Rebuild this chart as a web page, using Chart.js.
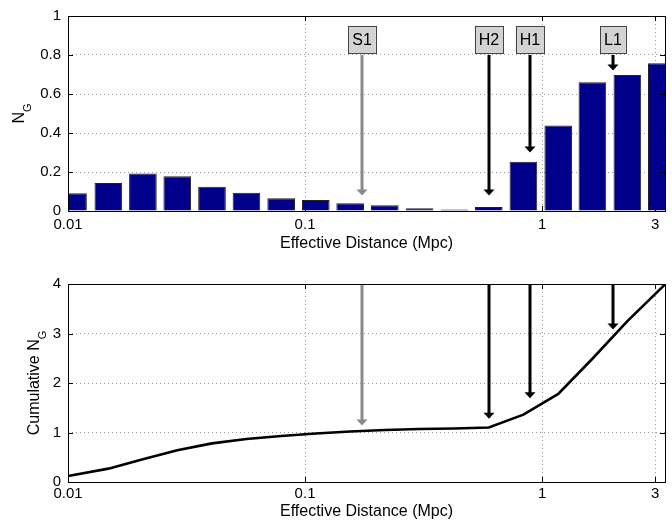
<!DOCTYPE html>
<html>
<head>
<meta charset="utf-8">
<script src="https://cdn.jsdelivr.net/npm/chart.js@4.4.1/dist/chart.umd.min.js"></script>
<style>
  body { margin: 0; background: #fff; }
  .panel { position: absolute; left: 0; }
</style>
</head>
<body>
<div class="panel" style="top:0"><canvas id="topChart" width="672" height="260"></canvas></div>
<div class="panel" style="top:260px"><canvas id="bottomChart" width="672" height="263"></canvas></div>
<script>
// bin centres (Mpc)
const distances = [0.0105, 0.0148, 0.0207, 0.0289, 0.0405, 0.0566, 0.0793, 0.111, 0.155,
                   0.217, 0.304, 0.426, 0.596, 0.834, 1.17, 1.63, 2.29, 3.20];
const ngValues = [0.091, 0.143, 0.192, 0.178, 0.125, 0.094, 0.066, 0.056, 0.040,
                  0.029, 0.014, 0.008, 0.020, 0.252, 0.438, 0.660, 0.697, 0.758];
const cumulativeDistances = [0.0100, 0.0148, 0.0207, 0.0289, 0.0405, 0.0566, 0.0793, 0.111, 0.155,
                             0.217, 0.304, 0.426, 0.596, 0.834, 1.17, 1.63, 2.29, 3.30];
const cumulativeNg = [0.12, 0.27, 0.46, 0.64, 0.78, 0.87, 0.93, 0.98, 1.02,
                      1.05, 1.07, 1.08, 1.10, 1.36, 1.78, 2.49, 3.25, 3.99];
const xTicks = [0.01, 0.1, 1, 3];

// detector markers
const detectorNames = ['S1', 'H2', 'H1', 'L1'];
const detectorDistances = [0.174, 0.597, 0.893, 1.99];
const topArrowTips = [0.08, 0.08, 0.30, 0.72];
const bottomArrowTips = [1.14, 1.28, 1.69, 3.08];
const detectorColors = ['#8a8a8a', '#000', '#000', '#000'];

const FONT = '"Liberation Sans", Arial, Helvetica, sans-serif';
Chart.defaults.font.family = FONT;
Chart.defaults.color = '#000';

function drawArrow(ctx, x, y1, y2, color) {
  ctx.save();
  ctx.strokeStyle = color;
  ctx.fillStyle = color;
  ctx.lineWidth = 3;
  ctx.beginPath();
  ctx.moveTo(x, y1);
  ctx.lineTo(x, y2 - 5);
  ctx.stroke();
  ctx.beginPath();
  ctx.moveTo(x - 5.5, y2 - 6);
  ctx.lineTo(x + 5.5, y2 - 6);
  ctx.lineTo(x, y2);
  ctx.closePath();
  ctx.fill();
  ctx.restore();
}

function drawYLabel(chart, main, sub, offset) {
  const ctx = chart.ctx, area = chart.chartArea;
  ctx.save();
  ctx.translate(area.left - offset, (area.top + area.bottom) / 2);
  ctx.rotate(-Math.PI / 2);
  ctx.fillStyle = '#000';
  ctx.textBaseline = 'alphabetic';
  ctx.font = '16px ' + FONT;
  const w1 = ctx.measureText(main).width;
  ctx.font = '11px ' + FONT;
  const w2 = ctx.measureText(sub).width;
  const start = -(w1 + w2) / 2;
  ctx.font = '16px ' + FONT;
  ctx.fillText(main, start, 0);
  ctx.font = '11px ' + FONT;
  ctx.fillText(sub, start + w1, 7);
  ctx.restore();
}

// frame + inward ticks like matlab
const framePlugin = {
  id: 'frame',
  afterDraw(chart) {
    const ctx = chart.ctx, a = chart.chartArea;
    const xs = chart.scales.x, ys = chart.scales.y;
    ctx.save();
    ctx.strokeStyle = '#000';
    ctx.lineWidth = 1;
    ctx.beginPath();
    xs.ticks.forEach(t => {
      const px = Math.round(xs.getPixelForValue(t.value)) + 0.5;
      ctx.moveTo(px, a.bottom); ctx.lineTo(px, a.bottom - 5);
      ctx.moveTo(px, a.top); ctx.lineTo(px, a.top + 5);
    });
    ys.ticks.forEach(t => {
      const py = Math.round(ys.getPixelForValue(t.value)) + 0.5;
      ctx.moveTo(a.left, py); ctx.lineTo(a.left + 5, py);
      ctx.moveTo(a.right, py); ctx.lineTo(a.right - 5, py);
    });
    ctx.stroke();
    ctx.strokeRect(Math.round(a.left) + 0.5, Math.round(a.top) + 0.5,
                   Math.round(a.right - a.left), Math.round(a.bottom - a.top));
    ctx.restore();
  }
};

const topMarkers = {
  id: 'topMarkers',
  afterDatasetsDraw(chart) {
    const ctx = chart.ctx, xs = chart.scales.x, ys = chart.scales.y;
    detectorNames.forEach((name, i) => {
      const x = Math.round(xs.getPixelForValue(detectorDistances[i]));
      drawArrow(ctx, x, ys.getPixelForValue(0.80), ys.getPixelForValue(topArrowTips[i]), detectorColors[i]);
      const cy = ys.getPixelForValue(0.88);
      ctx.save();
      ctx.font = '16px ' + FONT;
      const w = ctx.measureText(name).width + 8;
      ctx.fillStyle = '#d3d3d3';
      ctx.strokeStyle = '#444';
      ctx.lineWidth = 1;
      ctx.fillRect(x - w / 2, cy - 13.5, w, 27);
      ctx.strokeRect(Math.round(x - w / 2) + 0.5, Math.round(cy - 13.5) + 0.5, Math.round(w), 27);
      ctx.fillStyle = '#000';
      ctx.textAlign = 'center';
      ctx.textBaseline = 'middle';
      ctx.fillText(name, x, cy + 1);
      ctx.restore();
    });
    drawYLabel(chart, 'N', 'G', 44);
  }
};

const bottomMarkers = {
  id: 'bottomMarkers',
  afterDatasetsDraw(chart) {
    const ctx = chart.ctx, xs = chart.scales.x, ys = chart.scales.y;
    detectorNames.forEach((name, i) => {
      const x = Math.round(xs.getPixelForValue(detectorDistances[i]));
      drawArrow(ctx, x, chart.chartArea.top, ys.getPixelForValue(bottomArrowTips[i]), detectorColors[i]);
    });
    drawYLabel(chart, 'Cumulative N', 'G', 29);
  }
};

function xScale(tickPad, titlePad, height) {
  return {
    type: 'logarithmic',
    min: 0.01,
    max: 3.3,
    offset: false,
    afterBuildTicks: s => { s.ticks = xTicks.map(v => ({ value: v })); },
    afterFit: s => { s.height = height; },
    ticks: {
      autoSkip: false, maxRotation: 0, padding: tickPad,
      font: { size: 15 },
      callback: v => String(v)
    },
    grid: { offset: false, drawTicks: false, color: '#9a9a9a', lineWidth: 1 },
    border: { display: false, dash: [1, 3] },
    title: { display: true, text: 'Effective Distance (Mpc)', font: { size: 16 }, padding: { top: 0, bottom: titlePad } }
  };
}

function yScale(max, step) {
  return {
    min: 0, max: max,
    afterFit: s => { s.width = 68; },
    ticks: { stepSize: step, padding: 7, font: { size: 15 }, callback: v => String(Math.round(v * 10) / 10) },
    grid: { drawTicks: false, color: '#9a9a9a', lineWidth: 1 },
    border: { display: false, dash: [1, 3] }
  };
}

new Chart(document.getElementById('topChart'), {
  type: 'bar',
  data: {
    datasets: [{
      data: distances.map((d, i) => ({ x: d, y: ngValues[i] })),
      backgroundColor: '#00008a',
      borderColor: '#222',
      borderWidth: 1,
      barPercentage: 0.81,
      categoryPercentage: 1
    }]
  },
  options: {
    responsive: false,
    animation: false,
    layout: { padding: { top: 13, right: 7, left: 0, bottom: 0 } },
    plugins: { legend: { display: false }, tooltip: { enabled: false } },
    scales: { x: xScale(5, 7, 49), y: yScale(1, 0.2) }
  },
  plugins: [topMarkers, framePlugin]
});

new Chart(document.getElementById('bottomChart'), {
  type: 'line',
  data: {
    datasets: [{
      data: cumulativeDistances.map((d, i) => ({ x: d, y: cumulativeNg[i] })),
      borderColor: '#000',
      borderWidth: 2.6,
      pointRadius: 0,
      tension: 0,
      fill: false
    }]
  },
  options: {
    responsive: false,
    animation: false,
    layout: { padding: { top: 24, right: 7, left: 0, bottom: 0 } },
    plugins: { legend: { display: false }, tooltip: { enabled: false } },
    scales: { x: xScale(3, 2, 41), y: yScale(4, 1) }
  },
  plugins: [bottomMarkers, framePlugin]
});
</script>
</body>
</html>
